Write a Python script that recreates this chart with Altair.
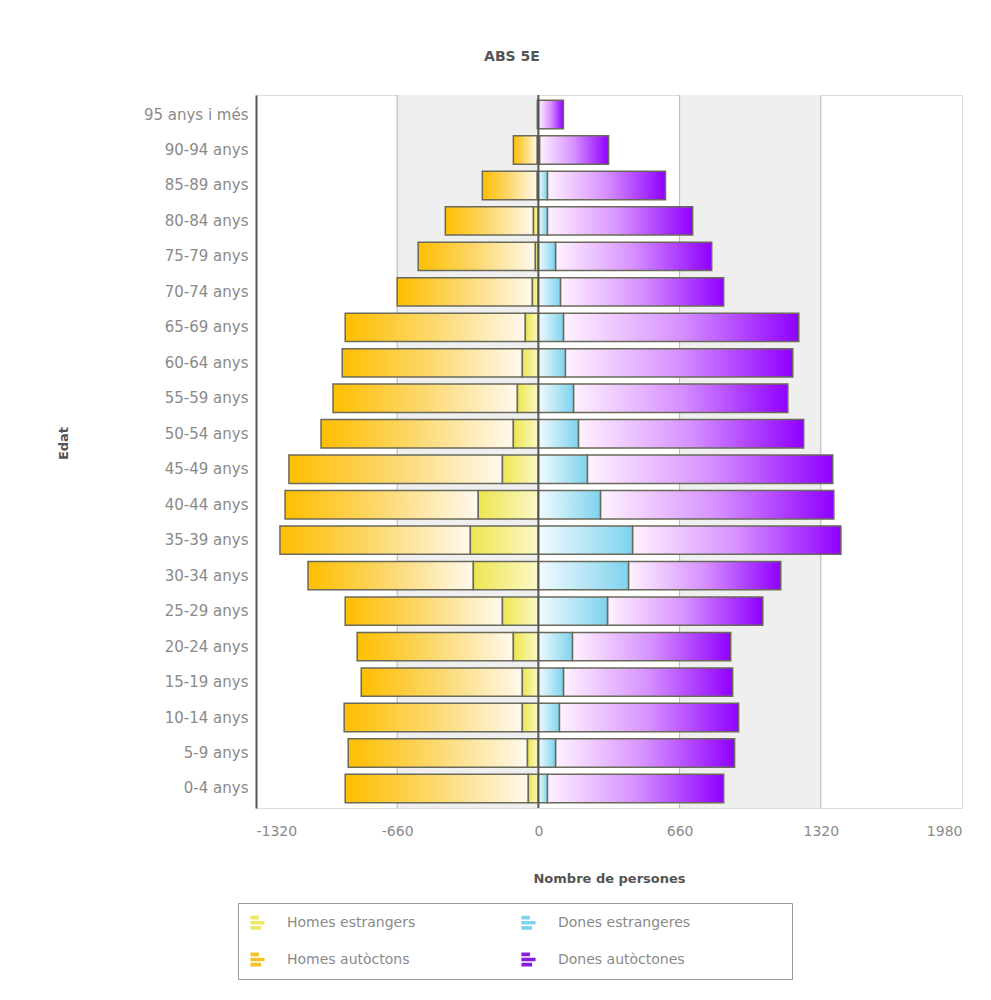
import altair as alt
import pandas as pd

ages = ["95 anys i més", "90-94 anys", "85-89 anys", "80-84 anys", "75-79 anys",
        "70-74 anys", "65-69 anys", "60-64 anys", "55-59 anys", "50-54 anys",
        "45-49 anys", "40-44 anys", "35-39 anys", "30-34 anys", "25-29 anys",
        "20-24 anys", "15-19 anys", "10-14 anys", "5-9 anys", "0-4 anys"]
homes_estrangers = [0, 5, 5, 23, 14, 28, 61, 75, 98, 117, 168, 281, 318, 304, 168, 117, 75, 75, 51, 47]
homes_autoctons = [5, 112, 257, 412, 548, 632, 842, 842, 862, 899, 998, 903, 890, 773, 735, 730, 753, 833, 838, 856]
dones_estrangeres = [0, 5, 42, 42, 80, 103, 117, 126, 164, 187, 229, 290, 440, 421, 323, 159, 117, 98, 80, 42]
dones_autoctones = [117, 323, 552, 679, 730, 763, 1100, 1063, 1002, 1053, 1147, 1091, 974, 712, 726, 740, 791, 838, 837, 824]
# legend order (column-major fill: column 1 = Homes, column 2 = Dones)
series = ["Homes estrangers", "Homes autòctons", "Dones estrangeres", "Dones autòctones"]
series_colors = ["#EDE86A", "#F5C02A", "#7ED3EE", "#8A1BE0"]
x_ticks = [-1320, -660, 0, 660, 1320, 1980]
shaded_from = [-660, 660]
shaded_to = [0, 1320]

rows = []
for i, a in enumerate(ages):
    he, ha = homes_estrangers[i], homes_autoctons[i]
    de, da = dones_estrangeres[i], dones_autoctones[i]
    rows.append({"edat": a, "serie": "Homes estrangers", "x0": 0, "x1": -he})
    rows.append({"edat": a, "serie": "Homes autòctons", "x0": -he, "x1": -(he + ha)})
    rows.append({"edat": a, "serie": "Dones estrangeres", "x0": 0, "x1": de})
    rows.append({"edat": a, "serie": "Dones autòctones", "x0": de, "x1": de + da})
df = pd.DataFrame(rows)

FONT = "DejaVu Sans"
xscale = alt.Scale(domain=[x_ticks[0], x_ticks[-1]], nice=False, zero=False)
yscale = alt.Scale(domain=ages, paddingInner=0.2, paddingOuter=0.15)

x_axis = alt.Axis(values=x_ticks, labelExpr="'' + datum.value", title="Nombre de persones",
                  ticks=False, grid=False, domain=False, labelPadding=16, titlePadding=34,
                  labelFontSize=14, labelColor="#8a8a8a", labelFont=FONT,
                  titleFontSize=13, titleFont=FONT, titleColor="#555", titleFontWeight="bold")
y_axis = alt.Axis(title="Edat", ticks=False, grid=False, domain=True, domainColor="#555",
                  domainWidth=2, labelPadding=8, labelFontSize=15, labelColor="#8a8a8a",
                  labelFont=FONT, titleFontSize=13, titleFont=FONT, titleColor="#555",
                  titleFontWeight="bold", titleX=-186, titleY=348)

bands = pd.DataFrame({"a": shaded_from, "b": shaded_to})
bg = alt.Chart(bands).mark_rect(color="#efefef").encode(
    x=alt.X("a:Q", scale=xscale, axis=x_axis), x2="b:Q")

grid = alt.Chart(pd.DataFrame({"v": x_ticks[1:-1]})).mark_rule(
    color="#b5b5b5", strokeWidth=1).encode(x=alt.X("v:Q", scale=xscale))


def grad(stops):
    return alt.Gradient(gradient="linear", x1=0, x2=1, y1=0, y2=0,
                        stops=[alt.GradientStop(color=c, offset=o) for o, c in stops])


fills = {
    "Homes autòctons": grad([(0, "#FFBE00"), (0.5, "#FCD970"), (1, "#FFF9EE")]),
    "Homes estrangers": grad([(0, "#EDE650"), (1, "#FBF8C8")]),
    "Dones estrangeres": grad([(0, "#F2FBFF"), (1, "#7ED3EE")]),
    "Dones autòctones": grad([(0, "#FFF2FF"), (0.5, "#D690FF"), (1, "#9000FF")]),
}

bars = []
for s in ["Homes autòctons", "Homes estrangers", "Dones autòctones", "Dones estrangeres"]:
    bars.append(
        alt.Chart(df).transform_filter(alt.datum.serie == s)
        .mark_bar(fill=fills[s], stroke="#6a6a5a", strokeWidth=1.5)
        .encode(y=alt.Y("edat:N", scale=yscale, sort=ages, axis=y_axis),
                x=alt.X("x0:Q", scale=xscale), x2="x1:Q")
    )

zero = alt.Chart(pd.DataFrame({"v": [0]})).mark_rule(color="#555", strokeWidth=2).encode(
    x=alt.X("v:Q", scale=xscale))

PAD = " " * 20 + "\u200b"
icon = "M-1,-1H0.2V-0.45H-1Z M-1,-0.25H1V0.25H-1Z M-1,0.45H0.5V1H-1Z"
legend_layer = alt.Chart(df).mark_point(opacity=0, filled=True).encode(
    x=alt.X("x1:Q", scale=xscale),
    y=alt.Y("edat:N", scale=yscale, sort=ages),
    color=alt.Color("serie:N",
                    scale=alt.Scale(domain=series, range=series_colors),
                    legend=alt.Legend(title=None, orient="none", legendX=-18, legendY=808,
                                      columns=2, columnPadding=16, rowPadding=22,
                                      symbolType=icon, symbolSize=200, symbolOpacity=1,
                                      symbolStrokeWidth=0, labelFontSize=14,
                                      labelFont=FONT, labelColor="#8a8a8a", labelOffset=22,
                                      labelExpr="datum.label + '" + PAD + "'",
                                      padding=12, strokeColor="#999", fillColor="white",
                                      labelLimit=400)),
)

chart = alt.layer(bg, grid, *bars, zero, legend_layer).properties(
    width=706, height=713,
    title=alt.TitleParams("ABS 5E", fontSize=14, font=FONT, color="#555",
                          fontWeight="bold", anchor="middle", dx=-97, offset=30),
    autosize=alt.AutoSizeParams(type="none"),
    padding={"left": 248, "top": 87, "right": 15, "bottom": 180},
).configure_view(stroke="#9a9a9a", strokeWidth=3).configure(background="white")

chart.save("out.html", embed_options={"renderer": "svg", "actions": False})
